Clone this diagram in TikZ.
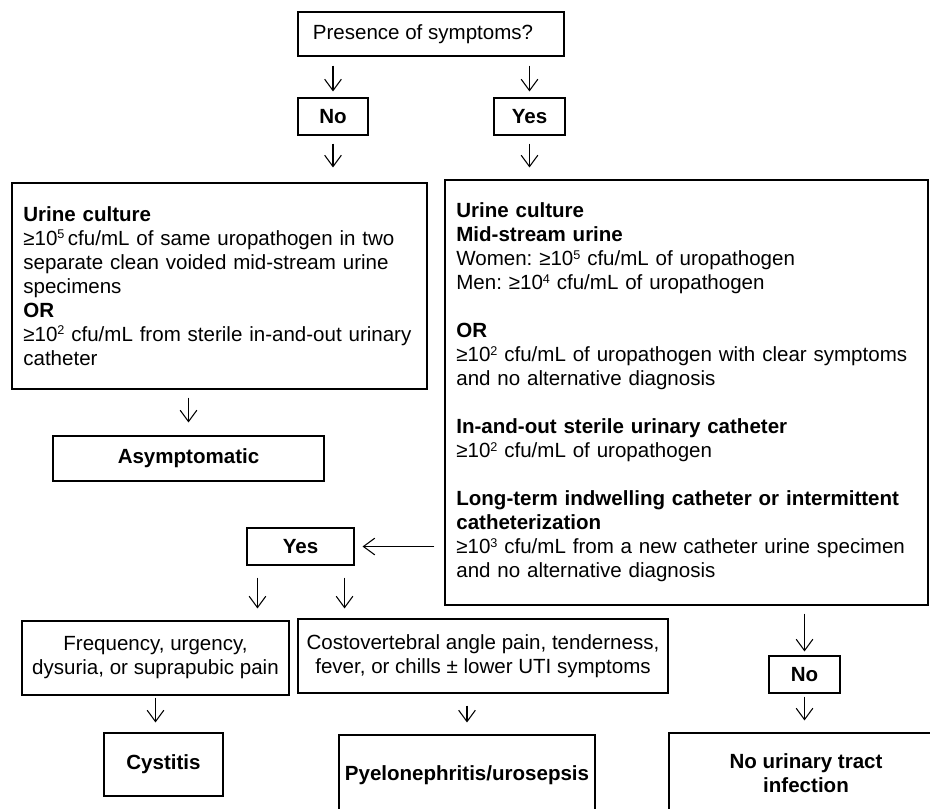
\documentclass[tikz,border=0pt]{standalone}
\usepackage{fontspec}
\setmainfont{Liberation Sans}
\usetikzlibrary{arrows.meta}
\frenchspacing

\newcommand{\upx}[1]{\raisebox{4.8pt}{\fontsize{9.5}{9.5}\selectfont #1}}

\tikzset{
  base/.style={draw, line width=0.8pt, inner sep=0pt, font=\fontsize{15.4}{18}\selectfont},
  box/.style 2 args={base, minimum width=#1*0.75pt, minimum height=#2*0.75pt, align=center},
  txtbox/.style 2 args={base, minimum width=#1*0.75pt, minimum height=#2*0.75pt, align=left, text width=#1*0.75pt-17pt},
  bold/.style={font=\fontsize{15.4}{18}\selectfont\bfseries},
  arr/.style={-{Straight Barb[length=8.5pt,width=12.5pt]}, line width=0.8pt}
}

\begin{document}
\begin{tikzpicture}[x=0.75pt,y=-0.75pt]
\useasboundingbox (0,0) rectangle (930,808);
\clip (0,0) rectangle (930,808);
%top part
\node[box={266}{44}] (pres) at (431,34) {Presence of symptoms?\kern12pt};
\node[box={70}{37},bold] (no1) at (333,116.5) {No};
\node[box={71}{37},bold] (yes1) at (529.5,116.5) {Yes};
%left culture box
\node[txtbox={415}{206}] (lc) at (219.5,286) {{\bfseries Urine culture}\\
≥10\upx{5}\,cfu/mL of same uropathogen in two\\
separate clean voided mid-stream urine\\
specimens\\
{\bfseries OR}\\
≥10\upx{2} cfu/mL from sterile in-and-out urinary\\
catheter};
%right culture box
\node[txtbox={483}{425}] (rc) at (686.5,392.5) {{\bfseries Urine culture}\\
{\bfseries Mid-stream urine}\\
Women: ≥10\upx{5} cfu/mL of uropathogen\\
Men: ≥10\upx{4} cfu/mL of uropathogen\\[18pt]
{\bfseries OR}\\
≥10\upx{2} cfu/mL of uropathogen with clear symptoms\\
and no alternative diagnosis\\[18pt]
{\bfseries In-and-out sterile urinary catheter}\\
≥10\upx{2} cfu/mL of uropathogen\\[18pt]
{\bfseries Long-term indwelling catheter or intermittent}\\
{\bfseries catheterization}\\
≥10\upx{3} cfu/mL from a new catheter urine specimen\\
and no alternative diagnosis};
\node[box={271}{45},bold] (asym) at (188.5,458.5) {Asymptomatic};
%symptoms
\node[box={107}{37},bold] (yes2) at (300.5,546.5) {Yes};
\node[box={267}{74}] (freq) at (155.5,658) {Frequency, urgency,\\dysuria, or suprapubic pain};
\node[box={370}{74}] (cvp) at (483,656) {Costovertebral angle pain, tenderness,\\fever, or chills ± lower UTI symptoms};
\node[box={119}{63},bold] (cyst) at (163.5,764.5) {Cystitis};
\node[box={256}{80},bold] (pyelo) at (467,775) {Pyelonephritis/urosepsis};
\node[box={71}{37},bold] (no2) at (804.5,674.5) {No};
\node[box={274}{80},bold] (nouti) at (806,773) {No urinary tract\\infection};
%arrows
\draw[arr, shorten <=6.75pt, shorten >=4.5pt] (pres.south -| no1) -- (no1.north);
\draw[arr, shorten <=6.75pt, shorten >=4.5pt] (pres.south -| yes1) -- (yes1.north);
\draw[arr, shorten <=6pt, shorten >=11.25pt] (no1.south) -- (no1.south |- lc.north);
\draw[arr, shorten <=6pt, shorten >=9pt] (yes1.south) -- (yes1.south |- rc.north);
\draw[arr, shorten <=6pt, shorten >=9.75pt] (asym.north |- lc.south) -- (asym.north);
\draw[arr, shorten <=7.5pt, shorten >=6pt] (rc.west |- yes2.east) -- (yes2.east);
\draw[arr, shorten <=9pt, shorten >=9pt] ([xshift=8.25pt]yes2.south west) -- ([xshift=8.25pt]yes2.south west |- freq.north);
\draw[arr, shorten <=9pt, shorten >=7.5pt] ([xshift=-7.5pt]yes2.south east) -- ([xshift=-7.5pt]yes2.south east |- cvp.north);
\draw[arr, shorten <=1.5pt, shorten >=7.5pt] (freq.south) -- (freq.south |- cyst.north);
\draw[arr, shorten <=9pt, shorten >=9pt] (pyelo.north |- cvp.south) -- (pyelo.north);
\draw[arr, shorten <=6pt, shorten >=3pt] (no2.north |- rc.south) -- (no2.north);
\draw[arr, shorten <=2.25pt, shorten >=9pt] (no2.south) -- (nouti.north -| no2.south);
\end{tikzpicture}
\end{document}
